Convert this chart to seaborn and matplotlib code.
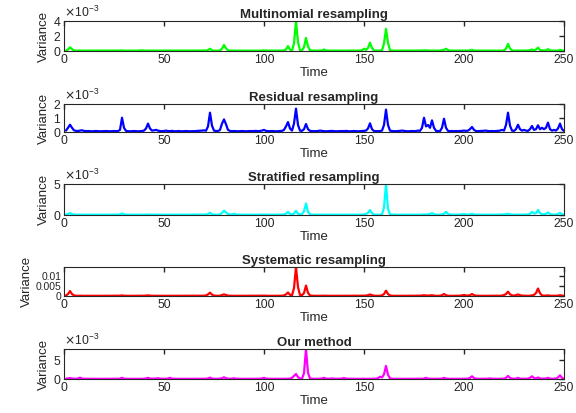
import numpy as np
import seaborn as sns
import matplotlib
matplotlib.use("Agg")
import matplotlib.pyplot as plt
from matplotlib.ticker import FixedLocator, FixedFormatter

sns.set_theme(style="white")
plt.rcParams['font.family'] = ['Liberation Sans', 'DejaVu Sans']

# time axis
time = list(range(1, 251))

# variance values, in units of 1e-3
multinomial = [
    0.05, 0.2, 0.5, 0.25, 0.08, 0.05, 0.05, 0.06, 0.05, 0.05, 0.04, 0.05, 0.05, 0.06, 0.05, 0.05, 0.04, 0.05, 0.05, 0.05, 0.06, 0.05, 0.05, 0.04, 0.05,
    0.05, 0.05, 0.06, 0.08, 0.05, 0.04, 0.05, 0.05, 0.05, 0.06, 0.05, 0.05, 0.07, 0.09, 0.06, 0.05, 0.05, 0.05, 0.06, 0.05, 0.05, 0.05, 0.04, 0.05, 0.05,
    0.05, 0.06, 0.05, 0.05, 0.04, 0.05, 0.05, 0.05, 0.06, 0.05, 0.05, 0.04, 0.05, 0.05, 0.06, 0.05, 0.05, 0.05, 0.06, 0.08, 0.06, 0.12, 0.3, 0.1, 0.05,
    0.05, 0.05, 0.08, 0.3, 0.8, 0.35, 0.1, 0.05, 0.05, 0.06, 0.05, 0.05, 0.04, 0.05, 0.05, 0.06, 0.05, 0.05, 0.05, 0.06, 0.05, 0.05, 0.04, 0.07, 0.08,
    0.06, 0.05, 0.05, 0.05, 0.06, 0.05, 0.05, 0.05, 0.06, 0.08, 0.2, 0.65, 0.2, 0.07, 1.0, 4.0, 1.2, 0.1, 0.08, 0.5, 1.75, 0.6, 0.1, 0.06, 0.05,
    0.05, 0.05, 0.06, 0.08, 0.2, 0.07, 0.05, 0.05, 0.05, 0.06, 0.05, 0.05, 0.05, 0.06, 0.05, 0.05, 0.04, 0.05, 0.07, 0.05, 0.05, 0.05, 0.06, 0.1, 0.3,
    0.15, 0.4, 1.1, 0.4, 0.07, 0.05, 0.05, 0.06, 0.1, 1.0, 2.95, 1.1, 0.1, 0.05, 0.05, 0.05, 0.06, 0.05, 0.05, 0.05, 0.06, 0.05, 0.05, 0.05, 0.06,
    0.05, 0.05, 0.06, 0.08, 0.07, 0.09, 0.06, 0.05, 0.05, 0.06, 0.05, 0.05, 0.06, 0.1, 0.15, 0.3, 0.12, 0.06, 0.05, 0.05, 0.05, 0.06, 0.05, 0.05, 0.05,
    0.05, 0.06, 0.08, 0.15, 0.07, 0.05, 0.05, 0.05, 0.06, 0.05, 0.05, 0.05, 0.06, 0.05, 0.05, 0.05, 0.06, 0.05, 0.05, 0.1, 0.3, 0.95, 0.35, 0.08, 0.05,
    0.05, 0.05, 0.06, 0.05, 0.05, 0.06, 0.08, 0.1, 0.2, 0.1, 0.2, 0.45, 0.15, 0.08, 0.06, 0.1, 0.25, 0.08, 0.05, 0.06, 0.05, 0.06, 0.15, 0.07, 0.05,
]

residual = [
    0.1, 0.3, 0.52, 0.3, 0.12, 0.08, 0.07, 0.1, 0.12, 0.08, 0.06, 0.07, 0.06, 0.05, 0.06, 0.07, 0.06, 0.05, 0.06, 0.06, 0.07, 0.06, 0.05, 0.06, 0.07,
    0.06, 0.07, 0.15, 1.02, 0.3, 0.08, 0.06, 0.05, 0.06, 0.07, 0.06, 0.05, 0.06, 0.07, 0.1, 0.25, 0.6, 0.25, 0.1, 0.12, 0.15, 0.1, 0.07, 0.06, 0.07,
    0.1, 0.07, 0.06, 0.08, 0.06, 0.05, 0.07, 0.06, 0.05, 0.06, 0.07, 0.06, 0.05, 0.06, 0.06, 0.07, 0.08, 0.09, 0.1, 0.12, 0.09, 0.4, 1.38, 0.45, 0.1,
    0.07, 0.07, 0.15, 0.6, 0.9, 0.55, 0.15, 0.08, 0.06, 0.07, 0.06, 0.05, 0.06, 0.07, 0.06, 0.05, 0.06, 0.07, 0.06, 0.07, 0.08, 0.06, 0.07, 0.1, 0.15,
    0.08, 0.06, 0.06, 0.07, 0.06, 0.05, 0.06, 0.07, 0.08, 0.15, 0.4, 0.71, 0.25, 0.1, 0.6, 1.67, 0.5, 0.1, 0.08, 0.2, 0.57, 0.2, 0.08, 0.07, 0.06,
    0.06, 0.07, 0.1, 0.08, 0.06, 0.05, 0.06, 0.07, 0.08, 0.06, 0.05, 0.06, 0.06, 0.07, 0.06, 0.08, 0.06, 0.05, 0.06, 0.07, 0.06, 0.05, 0.06, 0.07, 0.08,
    0.1, 0.25, 0.62, 0.2, 0.07, 0.06, 0.06, 0.07, 0.1, 0.5, 1.6, 0.5, 0.1, 0.07, 0.06, 0.06, 0.07, 0.08, 0.1, 0.08, 0.06, 0.05, 0.06, 0.07, 0.06,
    0.07, 0.1, 0.08, 0.3, 1.02, 0.4, 0.5, 0.3, 0.83, 0.3, 0.08, 0.07, 0.06, 0.3, 0.95, 0.3, 0.08, 0.06, 0.07, 0.06, 0.07, 0.06, 0.07, 0.08, 0.1,
    0.08, 0.1, 0.2, 0.36, 0.15, 0.07, 0.06, 0.07, 0.08, 0.09, 0.1, 0.07, 0.06, 0.07, 0.06, 0.07, 0.08, 0.1, 0.15, 0.1, 0.5, 1.38, 0.45, 0.1, 0.08,
    0.2, 0.52, 0.2, 0.1, 0.15, 0.1, 0.08, 0.2, 0.43, 0.15, 0.2, 0.48, 0.2, 0.3, 0.2, 0.3, 0.67, 0.2, 0.1, 0.15, 0.1, 0.25, 0.6, 0.2, 0.08,
]

stratified = [
    0.1, 0.15, 0.3, 0.15, 0.08, 0.06, 0.05, 0.06, 0.05, 0.05, 0.06, 0.05, 0.05, 0.06, 0.05, 0.05, 0.05, 0.06, 0.05, 0.05, 0.05, 0.06, 0.05, 0.05, 0.05,
    0.05, 0.06, 0.08, 0.25, 0.1, 0.05, 0.05, 0.06, 0.05, 0.05, 0.05, 0.06, 0.05, 0.05, 0.05, 0.06, 0.08, 0.06, 0.05, 0.05, 0.06, 0.05, 0.05, 0.05, 0.06,
    0.05, 0.05, 0.06, 0.05, 0.05, 0.05, 0.06, 0.05, 0.05, 0.05, 0.06, 0.05, 0.05, 0.05, 0.06, 0.05, 0.05, 0.06, 0.05, 0.06, 0.08, 0.15, 0.35, 0.12, 0.06,
    0.05, 0.06, 0.1, 0.35, 0.7, 0.4, 0.15, 0.08, 0.1, 0.2, 0.1, 0.06, 0.05, 0.05, 0.06, 0.05, 0.05, 0.05, 0.06, 0.05, 0.05, 0.06, 0.05, 0.07, 0.08,
    0.06, 0.05, 0.05, 0.06, 0.05, 0.05, 0.06, 0.05, 0.06, 0.1, 0.2, 0.5, 0.15, 0.08, 0.25, 0.65, 0.2, 0.08, 0.15, 0.6, 1.85, 0.5, 0.1, 0.06, 0.05,
    0.05, 0.06, 0.05, 0.05, 0.06, 0.05, 0.05, 0.06, 0.05, 0.05, 0.05, 0.06, 0.05, 0.05, 0.06, 0.05, 0.05, 0.05, 0.06, 0.05, 0.05, 0.06, 0.05, 0.06, 0.1,
    0.15, 0.35, 0.8, 0.3, 0.08, 0.05, 0.06, 0.05, 0.1, 1.2, 5.0, 1.0, 0.1, 0.06, 0.05, 0.05, 0.06, 0.05, 0.05, 0.06, 0.05, 0.05, 0.06, 0.05, 0.05,
    0.06, 0.05, 0.05, 0.06, 0.08, 0.06, 0.1, 0.15, 0.3, 0.12, 0.06, 0.05, 0.06, 0.1, 0.2, 0.5, 0.18, 0.07, 0.05, 0.06, 0.05, 0.06, 0.08, 0.1, 0.15,
    0.08, 0.06, 0.1, 0.2, 0.08, 0.05, 0.06, 0.05, 0.05, 0.06, 0.05, 0.05, 0.06, 0.05, 0.05, 0.06, 0.05, 0.06, 0.08, 0.1, 0.12, 0.2, 0.1, 0.06, 0.05,
    0.06, 0.05, 0.06, 0.05, 0.06, 0.08, 0.1, 0.2, 0.5, 0.25, 0.3, 0.8, 0.3, 0.12, 0.1, 0.2, 0.4, 0.15, 0.08, 0.06, 0.08, 0.15, 0.35, 0.12, 0.06,
]

systematic = [
    0.3, 1.0, 2.5, 1.0, 0.3, 0.15, 0.12, 0.15, 0.12, 0.1, 0.12, 0.1, 0.12, 0.1, 0.1, 0.12, 0.1, 0.1, 0.12, 0.1, 0.1, 0.12, 0.1, 0.1, 0.12,
    0.1, 0.1, 0.15, 0.3, 0.15, 0.1, 0.12, 0.1, 0.1, 0.12, 0.1, 0.1, 0.12, 0.1, 0.15, 0.2, 0.3, 0.2, 0.12, 0.1, 0.1, 0.12, 0.1, 0.1, 0.12,
    0.1, 0.1, 0.12, 0.1, 0.1, 0.12, 0.1, 0.1, 0.12, 0.1, 0.1, 0.12, 0.1, 0.1, 0.12, 0.1, 0.1, 0.12, 0.1, 0.15, 0.3, 0.8, 1.7, 0.7, 0.2,
    0.12, 0.1, 0.2, 0.5, 0.8, 0.5, 0.2, 0.12, 0.1, 0.12, 0.1, 0.1, 0.12, 0.1, 0.1, 0.12, 0.1, 0.1, 0.12, 0.1, 0.1, 0.12, 0.1, 0.15, 0.2,
    0.12, 0.1, 0.1, 0.12, 0.1, 0.1, 0.12, 0.1, 0.15, 0.3, 0.8, 1.8, 0.6, 0.3, 4.0, 14.7, 4.5, 0.5, 0.4, 1.5, 5.3, 1.6, 0.3, 0.15, 0.12,
    0.1, 0.1, 0.12, 0.1, 0.15, 0.12, 0.1, 0.1, 0.12, 0.1, 0.1, 0.12, 0.1, 0.1, 0.12, 0.1, 0.1, 0.12, 0.1, 0.1, 0.12, 0.1, 0.1, 0.12, 0.15,
    0.2, 0.4, 0.8, 0.4, 0.15, 0.12, 0.1, 0.12, 0.3, 1.0, 2.7, 1.0, 0.3, 0.12, 0.1, 0.12, 0.1, 0.1, 0.12, 0.1, 0.1, 0.12, 0.1, 0.1, 0.12,
    0.1, 0.12, 0.15, 0.25, 0.4, 0.25, 0.2, 0.3, 0.4, 0.2, 0.12, 0.1, 0.15, 0.4, 1.0, 0.4, 0.15, 0.1, 0.12, 0.1, 0.1, 0.12, 0.15, 0.3, 0.5,
    0.3, 0.2, 0.4, 1.0, 0.4, 0.15, 0.12, 0.1, 0.12, 0.1, 0.1, 0.12, 0.1, 0.1, 0.12, 0.1, 0.12, 0.15, 0.2, 0.5, 1.0, 2.2, 0.9, 0.3, 0.2,
    0.4, 0.8, 0.4, 0.2, 0.15, 0.12, 0.1, 0.15, 0.3, 0.6, 1.5, 3.8, 1.4, 0.3, 0.15, 0.2, 0.3, 0.15, 0.12, 0.1, 0.12, 0.2, 0.4, 0.2, 0.12,
]

our_method = [
    0.1, 0.15, 0.25, 0.12, 0.08, 0.06, 0.15, 0.35, 0.12, 0.06, 0.05, 0.06, 0.05, 0.05, 0.06, 0.05, 0.05, 0.06, 0.05, 0.05, 0.06, 0.05, 0.05, 0.06, 0.05,
    0.05, 0.06, 0.1, 0.3, 0.1, 0.05, 0.06, 0.05, 0.05, 0.06, 0.05, 0.05, 0.06, 0.05, 0.08, 0.15, 0.3, 0.12, 0.06, 0.08, 0.12, 0.2, 0.1, 0.06, 0.05,
    0.08, 0.15, 0.3, 0.1, 0.05, 0.06, 0.05, 0.05, 0.06, 0.05, 0.05, 0.06, 0.05, 0.05, 0.06, 0.05, 0.05, 0.06, 0.05, 0.06, 0.08, 0.15, 0.35, 0.12, 0.06,
    0.05, 0.06, 0.1, 0.2, 0.45, 0.2, 0.08, 0.06, 0.1, 0.2, 0.08, 0.05, 0.06, 0.05, 0.05, 0.06, 0.05, 0.05, 0.06, 0.05, 0.05, 0.06, 0.08, 0.15, 0.3,
    0.1, 0.06, 0.05, 0.05, 0.06, 0.05, 0.05, 0.06, 0.05, 0.05, 0.06, 0.08, 0.1, 0.3, 0.8, 1.3, 0.5, 0.12, 0.1, 1.5, 7.8, 1.6, 0.15, 0.08, 0.06,
    0.05, 0.06, 0.08, 0.15, 0.3, 0.1, 0.06, 0.08, 0.15, 0.08, 0.05, 0.06, 0.08, 0.12, 0.25, 0.1, 0.06, 0.05, 0.06, 0.05, 0.05, 0.06, 0.05, 0.06, 0.05,
    0.05, 0.06, 0.05, 0.06, 0.08, 0.1, 0.2, 0.6, 0.4, 1.2, 3.4, 1.1, 0.15, 0.08, 0.06, 0.05, 0.06, 0.05, 0.05, 0.06, 0.05, 0.05, 0.06, 0.05, 0.05,
    0.06, 0.05, 0.05, 0.06, 0.1, 0.3, 0.12, 0.06, 0.05, 0.06, 0.05, 0.05, 0.06, 0.1, 0.3, 0.12, 0.06, 0.05, 0.06, 0.05, 0.05, 0.06, 0.05, 0.06, 0.08,
    0.06, 0.1, 0.3, 0.7, 0.25, 0.08, 0.06, 0.05, 0.06, 0.05, 0.06, 0.08, 0.15, 0.08, 0.06, 0.05, 0.06, 0.05, 0.06, 0.1, 0.3, 0.8, 0.3, 0.1, 0.06,
    0.1, 0.3, 0.1, 0.06, 0.05, 0.06, 0.1, 0.3, 0.7, 0.25, 0.15, 0.4, 0.15, 0.08, 0.1, 0.15, 0.3, 0.1, 0.06, 0.08, 0.15, 0.4, 0.95, 0.3, 0.08,
]

titles = ['Multinomial resampling', 'Residual resampling', 'Stratified resampling',
          'Systematic resampling', 'Our method']
colors = ['#00ff00', '#0000ff', '#00ffff', '#ff0000', '#ff00ff']
series = [multinomial, residual, stratified, systematic, our_method]
ytop = [4.0, 2.0, 5.0, 14.7, 7.8]
yticks = [[0, 2, 4], [0, 1, 2], [0, 5], [0, 5, 10], [0, 5]]

# axes boxes in pixels (top, bottom) of the 576x413 image
boxes = [(21, 51), (104, 132), (184, 215), (267, 296), (349, 379)]

fig = plt.figure(figsize=(5.76, 4.13), dpi=100)
grey = '#262626'
for i in range(5):
    top, bot = boxes[i]
    ax = fig.add_axes([64 / 576, 1 - bot / 413, (564 - 64) / 576, (bot - top) / 413])
    vals = np.array(series[i]) * 1e-3
    assert len(vals) == len(time)
    sns.lineplot(x=time, y=vals, ax=ax, color=colors[i], linewidth=1.6)
    ax.set_xlim(0, 250)
    ax.set_ylim(0, ytop[i] * 1e-3)
    ax.set_xticks([0, 50, 100, 150, 200, 250])
    ax.yaxis.set_major_locator(FixedLocator([t * 1e-3 for t in yticks[i]]))
    ax.tick_params(direction='in', top=True, right=True, length=3.5, width=1,
                   labelsize=8.8, colors=grey, pad=2)
    if i == 3:
        # labels here sit close together, so a touch smaller
        ax.yaxis.set_major_formatter(FixedFormatter(['0', '0.005', '0.01']))
        ax.tick_params(axis='y', labelsize=7.4)
    else:
        ax.ticklabel_format(axis='y', style='sci', scilimits=(0, 0), useMathText=True)
        ax.yaxis.get_offset_text().set_fontsize(8.8)
        ax.yaxis.get_offset_text().set_color(grey)
    for sp in ax.spines.values():
        sp.set_color(grey)
        sp.set_linewidth(0.8)
    ax.set_title(titles[i], fontsize=9.5, fontweight='bold', pad=2)
    ax.set_xlabel('Time', fontsize=9.5, color=grey, labelpad=1)
    ax.set_ylabel('Variance', fontsize=9.5, color=grey, labelpad=2)
    ax.grid(False)

fig.savefig('out.png', dpi=100)
